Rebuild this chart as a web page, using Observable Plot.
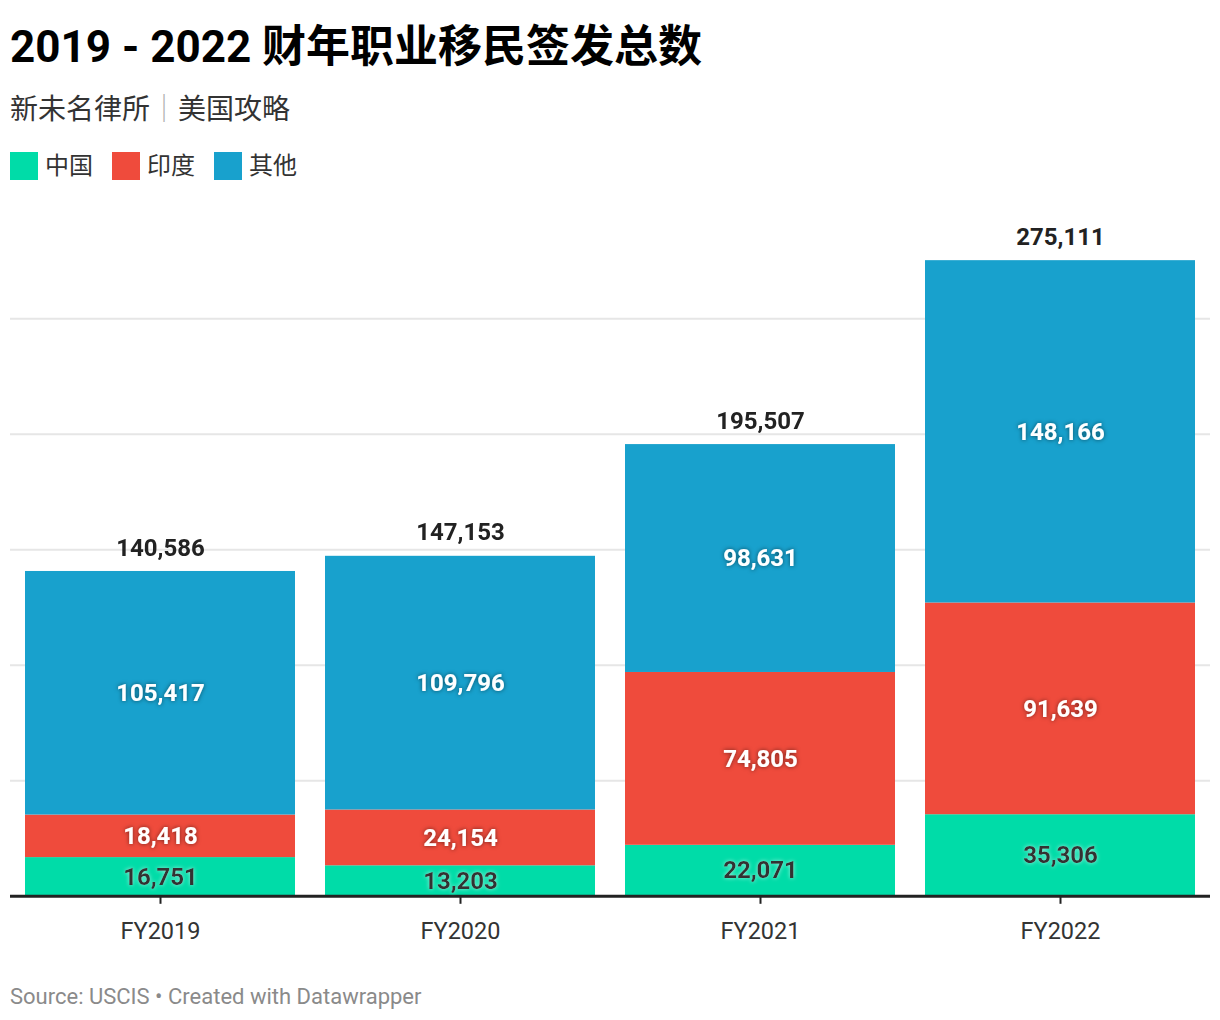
<!DOCTYPE html>
<html>
<head>
<meta charset="utf-8">
<script src="https://cdn.jsdelivr.net/npm/d3@7"></script>
<script src="https://cdn.jsdelivr.net/npm/@observablehq/plot@0.6"></script>
<style>
  body { margin: 0; background: #fff; font-family: Roboto, "Noto Sans CJK SC", sans-serif; }
  #root { position: relative; width: 1220px; height: 1020px; overflow: hidden; }
  .title { position: absolute; left: 10px; top: 21px; font-size: 44px; line-height: 52px; font-weight: 700; color: #000; white-space: nowrap; }
  .subtitle { position: absolute; left: 10px; top: 92px; font-size: 28px; line-height: 35px; color: #333; white-space: nowrap; }
  .subtitle .sep { color: #b0b0b0; }
  .legend { position: absolute; left: 10px; top: 152px; display: flex; align-items: center; height: 28px; }
  .legend .item { display: flex; align-items: center; margin-right: 19px; }
  .legend .sw { width: 28px; height: 28px; margin-right: 7px; }
  .legend .lb { font-size: 24px; line-height: 28px; color: #333; }
  #chart { position: absolute; left: 0; top: 200px; }
  .footer { position: absolute; left: 10px; top: 983.5px; font-size: 22px; line-height: 26px; color: #8a8a8a; white-space: nowrap; }
</style>
</head>
<body>
<div id="root">
  <div class="title">2019 - 2022 财年职业移民签发总数</div>
  <div class="subtitle">新未名律所<span class="sep">｜</span>美国攻略</div>
  <div class="legend" id="legend"></div>
  <div id="chart"></div>
  <div class="footer">Source: USCIS • Created with Datawrapper</div>
</div>
<script>
const years = ["FY2019", "FY2020", "FY2021", "FY2022"];
const regions = ["中国", "印度", "其他"];
const china = [16751, 13203, 22071, 35306];
const india = [18418, 24154, 74805, 91639];
const other = [105417, 109796, 98631, 148166];
const totals = [140586, 147153, 195507, 275111];
const colors = ["#00dca8", "#ef4b3c", "#18a1cd"];
const gridTicks = [50000, 100000, 150000, 200000, 250000];

const seriesByRegion = [china, india, other];
const rows = [];
years.forEach((year, i) => {
  let base = 0;
  regions.forEach((region, r) => {
    const value = seriesByRegion[r][i];
    rows.push({year, region, value, y1: base, y2: base + value, mid: base + value / 2});
    base += value;
  });
});
const totalRows = years.map((year, i) => ({year, total: totals[i]}));
const fmt = d3.format(",");

// legend
const legend = document.getElementById("legend");
regions.forEach((r, i) => {
  const item = document.createElement("div");
  item.className = "item";
  item.innerHTML = `<div class="sw" style="background:${colors[i]}"></div><div class="lb">${r}</div>`;
  legend.appendChild(item);
});

const chart = Plot.plot({
  width: 1220,
  height: 760,
  marginLeft: 10,
  marginRight: 10,
  marginTop: 2.65,
  marginBottom: 64.2,
  style: {fontFamily: 'Roboto, "Noto Sans CJK SC", sans-serif', background: "transparent", overflow: "visible"},
  x: {domain: years, paddingInner: 0.1, paddingOuter: 0.05, axis: null, label: null},
  y: {domain: [0, 300000], axis: null},
  color: {domain: regions, range: colors},
  marks: [
    Plot.gridY(gridTicks, {stroke: "#e6e6e6", strokeOpacity: 1, strokeWidth: 2}),
    Plot.barY(rows, {x: "year", y1: "y1", y2: "y2", fill: "region"}),
    Plot.ruleY([0], {stroke: "#222", strokeWidth: 3}),
    Plot.axisX({label: null, tickSize: 8, tickPadding: 18, fontSize: 23.5, color: "#333", strokeWidth: 2, stroke: "#222"}),
    Plot.text(rows.filter(d => d.region !== "中国"), {x: "year", y: "mid", text: d => fmt(d.value), fill: "#fff", fontSize: 24, fontWeight: 700}),
    Plot.text(rows.filter(d => d.region === "中国"), {x: "year", y: "mid", text: d => fmt(d.value), fill: "#333", fontSize: 24, fontWeight: 700}),
    Plot.text(totalRows, {x: "year", y: "total", text: d => fmt(d.total), dy: -23.5, fill: "#222", fontSize: 24, fontWeight: 700})
  ]
});

const svg = d3.select(chart);
const defs = svg.insert("defs", ":first-child");
const f1 = defs.append("filter").attr("id", "shDark").attr("x", "-20%").attr("y", "-50%").attr("width", "140%").attr("height", "200%");
f1.append("feDropShadow").attr("dx", 0).attr("dy", 0).attr("stdDeviation", 2).attr("flood-color", "#000").attr("flood-opacity", 0.55);
const f2 = defs.append("filter").attr("id", "shLight").attr("x", "-20%").attr("y", "-50%").attr("width", "140%").attr("height", "200%");
f2.append("feDropShadow").attr("dx", 0).attr("dy", 0).attr("stdDeviation", 2).attr("flood-color", "#fff").attr("flood-opacity", 0.6);
const textGroups = chart.querySelectorAll('g[aria-label="text"]');
if (textGroups[0]) textGroups[0].setAttribute("filter", "url(#shDark)");
if (textGroups[1]) textGroups[1].setAttribute("filter", "url(#shLight)");

document.getElementById("chart").appendChild(chart);
</script>
</body>
</html>
